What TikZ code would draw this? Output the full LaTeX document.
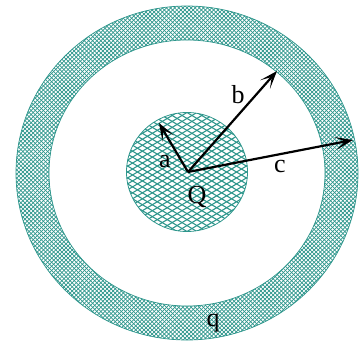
\documentclass[tikz,border=0pt]{standalone}
\usepackage{fontspec}
\setmainfont{Liberation Serif}
\usetikzlibrary{arrows.meta}
\definecolor{shell}{RGB}{46,150,140}
\tikzset{
  vec/.style={line width=2.2pt, -{Stealth[length=18pt,width=13pt,inset=10pt]}},
  lbl/.style={font=\fontsize{26}{26}\selectfont, inner sep=0pt},
}
\begin{document}
\begin{tikzpicture}[x=1pt,y=1pt]
\useasboundingbox (-187,-171) rectangle (174,172);
% outer shell, fine crosshatch
\begin{scope}[even odd rule]
\clip (0,-1) ellipse (171 and 167) (0,-1) ellipse (138 and 133);
\begin{scope}[rotate=45]
\foreach \k in {-65,...,65} \draw[shell, line width=.7pt] (-250,\k*2.9) -- (250,\k*2.9);
\end{scope}
\begin{scope}[rotate=-45]
\foreach \k in {-65,...,65} \draw[shell, line width=.7pt] (-250,\k*2.9) -- (250,\k*2.9);
\end{scope}
\end{scope}
\draw[shell, line width=.7pt] (0,-1) ellipse (171 and 167);
\draw[shell, line width=.7pt] (0,-1) ellipse (138 and 133);
% inner sphere, coarse mesh
\begin{scope}
\clip (0,0) ellipse (60.5 and 59.5);
\begin{scope}[rotate=31]
\foreach \k in {-14,...,14} \draw[shell, line width=1.1pt] (-80,\k*5.1) -- (80,\k*5.1);
\end{scope}
\begin{scope}[rotate=-31]
\foreach \k in {-14,...,14} \draw[shell, line width=1.1pt] (-80,\k*5.1) -- (80,\k*5.1);
\end{scope}
\end{scope}
\draw[shell, line width=.8pt] (0,0) ellipse (60.5 and 59.5);
% radii
\coordinate (O) at (1,0);
\coordinate (A) at (-28,49);
\coordinate (B) at (90,101);
\coordinate (C) at (166,32);
\draw[vec] (O) -- (A);
\draw[vec] (O) -- (B);
\draw[vec] (O) -- (C);
\node[lbl] (la) at (-22,10) {a};
\node[lbl] (lb) at (51,77) {b};
\node[lbl] (lc) at (93,5) {c};
\node[lbl] (lQ) at (10,-25) {Q};
\node[lbl] (lq) at (26,-151) {q};
\end{tikzpicture}
\end{document}
